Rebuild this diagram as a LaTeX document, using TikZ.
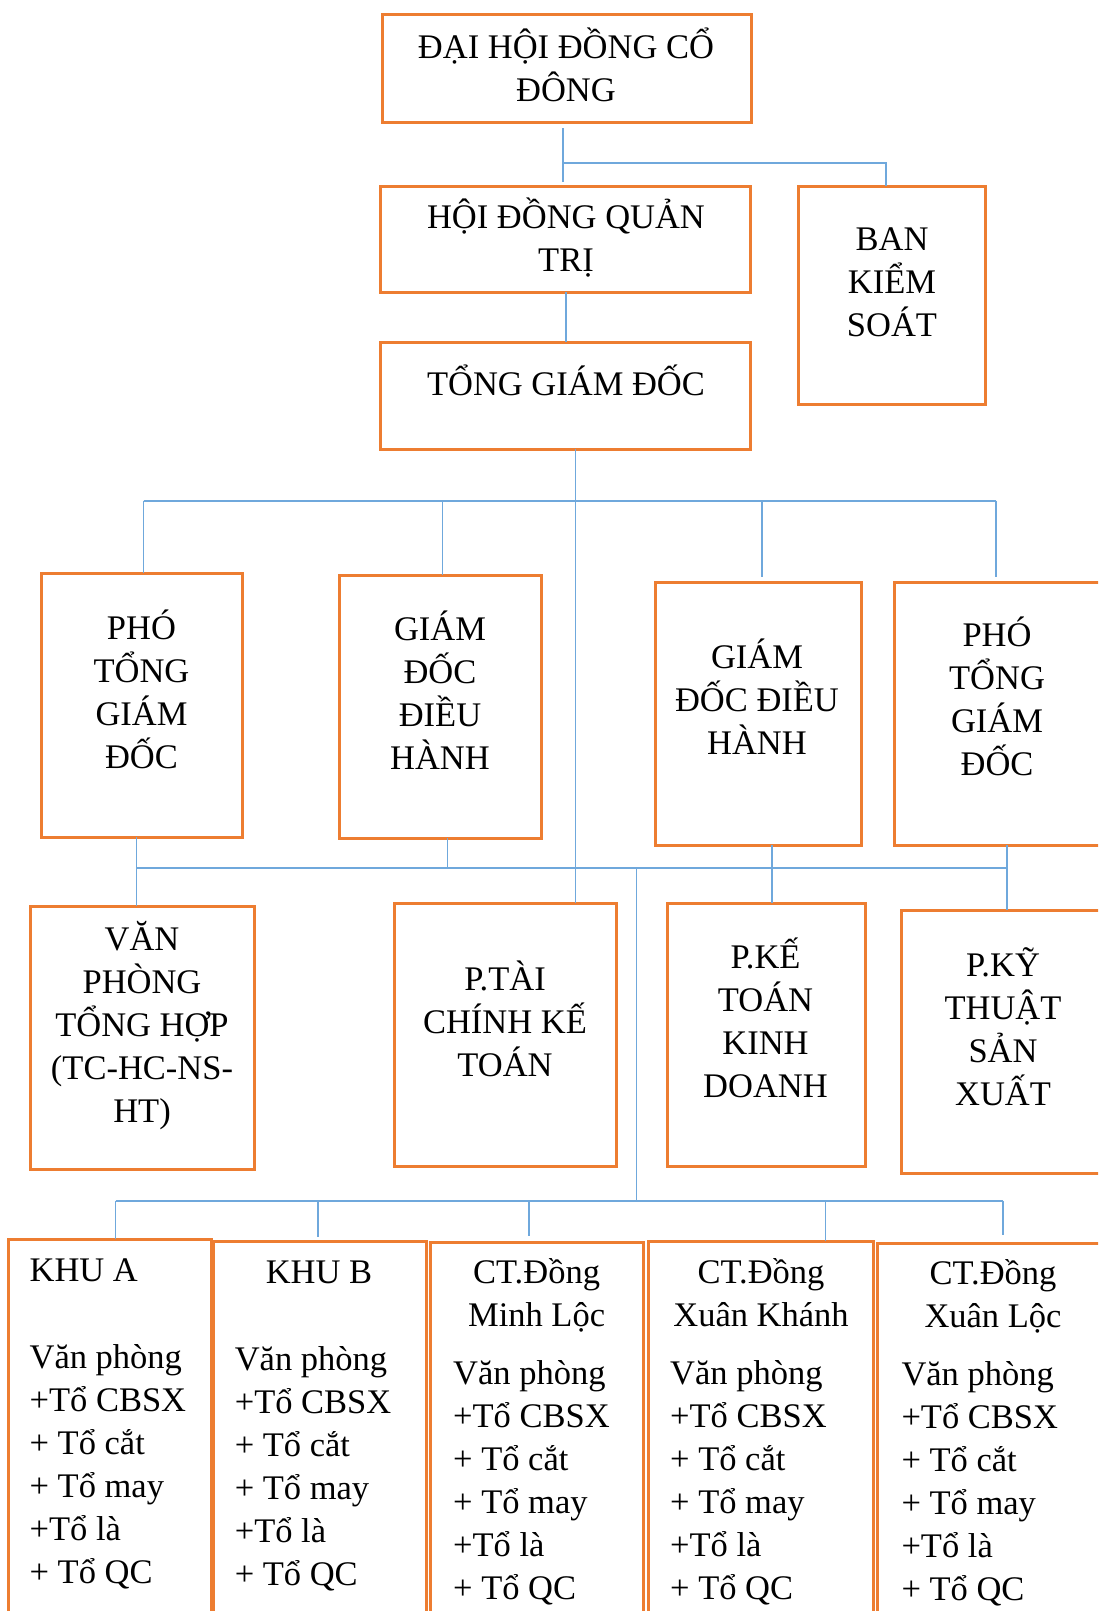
\documentclass[tikz,border=0pt]{standalone}
\usepackage{fontspec}
\setmainfont{Liberation Serif}
\definecolor{boxorange}{HTML}{ED7D31}
\definecolor{linkblue}{HTML}{6FA8DC}
\newcommand\topstrut{\rule{0pt}{36pt}}
\tikzset{
  unit box/.style={draw=boxorange, line width=3pt, rectangle, inner sep=0pt,
    outer sep=0pt, anchor=north west},
  link/.style={draw=linkblue, line width=1.6pt},
  label c/.style={anchor=north, align=center, inner sep=0pt,
    font=\fontsize{34.5}{43}\selectfont},
  label l/.style={anchor=north west, align=left, inner sep=0pt,
    font=\fontsize{34.5}{43}\selectfont},
}
\begin{document}
\begin{tikzpicture}[x=1pt, y=-1pt]
\path[use as bounding box, clip] (0,0) rectangle (1098,1611);
\fill[white] (0,0) rectangle (1098,1611);

% ---- boxes ----
\node[unit box, minimum width=369pt, minimum height=107pt] (dhdcd) at (382,15) {};
\node[unit box, minimum width=370pt, minimum height=106pt] (hdqt) at (380,186) {};
\node[unit box, minimum width=187pt, minimum height=218pt] (bks) at (798,186) {};
\node[unit box, minimum width=370pt, minimum height=107pt] (tgd) at (380,342) {};

\node[unit box, minimum width=201pt, minimum height=264pt] (ptgd1) at (41,573) {};
\node[unit box, minimum width=202pt, minimum height=263pt] (gddh1) at (339,575) {};
\node[unit box, minimum width=206pt, minimum height=263pt] (gddh2) at (655,582) {};
\node[unit box, minimum width=236pt, minimum height=263pt] (ptgd2) at (894,582) {};

\node[unit box, minimum width=224pt, minimum height=263pt] (vp) at (30,906) {};
\node[unit box, minimum width=222pt, minimum height=263pt] (ptc) at (394,903) {};
\node[unit box, minimum width=198pt, minimum height=263pt] (pkt) at (667,903) {};
\node[unit box, minimum width=229pt, minimum height=263pt] (pkyt) at (901,910) {};

\node[unit box, minimum width=203pt, minimum height=420pt] (khua) at (8,1239) {};
\node[unit box, minimum width=213pt, minimum height=420pt] (khub) at (213,1241) {};
\node[unit box, minimum width=213pt, minimum height=420pt] (ml) at (430,1242) {};
\node[unit box, minimum width=224.5pt, minimum height=420pt] (xk) at (648.5,1241) {};
\node[unit box, minimum width=253pt, minimum height=420pt] (xl) at (877,1243) {};

% ---- junction points ----
\coordinate (s1) at (563,163);
\coordinate (s1r) at (886,163);
\coordinate (s2) at (566,300);
\coordinate (trunk) at (575.6,500.7);
\coordinate (b2l) at (143.5,500.7);
\coordinate (b2a) at (442.6,500.7);
\coordinate (b2b) at (762,500.7);
\coordinate (b2r) at (996,500.7);
\coordinate (b3l) at (136.6,868);
\coordinate (b3a) at (447.5,868);
\coordinate (b3b) at (771.7,868);
\coordinate (b3c) at (636.6,868);
\coordinate (b3r) at (1007,868);
\coordinate (b4c) at (636.6,1201);
\coordinate (b4l) at (115.5,1201);
\coordinate (b4a) at (318,1201);
\coordinate (b4b) at (529,1201);
\coordinate (b4d) at (825.6,1201);
\coordinate (b4r) at (1003,1201);

% ---- connectors ----
\draw[link] ([yshift=-6pt]dhdcd.south -| s1) -- ([yshift=4pt]hdqt.north -| s1);
\draw[link] (s1) -- (s1r) -- (bks.north -| s1r);
\draw[link] (hdqt.south -| s2) -- (tgd.north -| s2);
\draw[link] (tgd.south -| trunk) -- (ptc.north -| trunk);

\draw[link] (b2l) -- (b2r);
\draw[link] (b2l) -- (ptgd1.north -| b2l);
\draw[link] (b2a) -- (gddh1.north -| b2a);
\draw[link] (b2b) -- ([yshift=5pt]gddh2.north -| b2b);
\draw[link] (b2r) -- ([yshift=5pt]ptgd2.north -| b2r);

\draw[link] (b3l) -- (b3r);
\draw[link] (ptgd1.south -| b3l) -- (vp.north -| b3l);
\draw[link] (gddh1.south -| b3a) -- (b3a);
\draw[link] (gddh2.south -| b3b) -- (pkt.north -| b3b);
\draw[link] (ptgd2.south -| b3r) -- (pkyt.north -| b3r);
\draw[link] (b3c) -- (b4c);

\draw[link] (b4l) -- (b4r);
\draw[link] (b4l) -- (khua.north -| b4l);
\draw[link] (b4a) -- ([yshift=4pt]khub.north -| b4a);
\draw[link] (b4b) -- ([yshift=6pt]ml.north -| b4b);
\draw[link] (b4d) -- (xk.north -| b4d);
\draw[link] (b4r) -- ([yshift=8pt]xl.north -| b4r);

% ---- labels ----
\node[label c] (t-dhdcd) at (566,22.3) {\topstrut ĐẠI HỘI ĐỒNG CỔ\\ĐÔNG};
\node[label c] (t-hdqt) at (566,192.3) {\topstrut HỘI ĐỒNG QUẢN\\TRỊ};
\node[label c] (t-bks) at (892,214.7) {\topstrut BAN\\KIỂM\\SOÁT};
\node[label c] (t-tgd) at (566,359.7) {\topstrut TỔNG GIÁM ĐỐC};

\node[label c] (t-ptgd1) at (141.5,603.3) {\topstrut PHÓ\\TỔNG\\GIÁM\\ĐỐC};
\node[label c] (t-gddh1) at (440,604.7) {\topstrut GIÁM\\ĐỐC\\ĐIỀU\\HÀNH};
\node[label c] (t-gddh2) at (757,632.3) {\topstrut GIÁM\\ĐỐC ĐIỀU\\HÀNH};
\node[label c] (t-ptgd2) at (997,610.7) {\topstrut PHÓ\\TỔNG\\GIÁM\\ĐỐC};

\node[label c] (t-vp) at (142,914) {\topstrut VĂN\\PHÒNG\\TỔNG HỢP\\(TC-HC-NS-\\HT)};
\node[label c] (t-ptc) at (505,954) {\topstrut P.TÀI\\CHÍNH KẾ\\TOÁN};
\node[label c] (t-pkt) at (765.5,932.3) {\topstrut P.KẾ\\TOÁN\\KINH\\DOANH};
\node[label c] (t-pkyt) at (1003,940) {\topstrut P.KỸ\\THUẬT\\SẢN\\XUẤT};

\node[label l] (h-khua) at (29.4,1245) {\topstrut KHU A};
\node[label c] (h-khub) at (319,1247.3) {\topstrut KHU B};
\node[label c] (h-ml) at (536.6,1247.3) {\topstrut CT.Đồng\\Minh Lộc};
\node[label c] (h-xk) at (761,1247.3) {\topstrut CT.Đồng\\Xuân Khánh};
\node[label c] (h-xl) at (993,1248.3) {\topstrut CT.Đồng\\Xuân Lộc};

\node[label l] (l-khua) at (29.4,1332.3) {\topstrut Văn phòng\\+Tổ CBSX\\+ Tổ cắt\\+ Tổ may\\+Tổ là\\+ Tổ QC};
\node[label l] (l-khub) at (234.6,1334) {\topstrut Văn phòng\\+Tổ CBSX\\+ Tổ cắt\\+ Tổ may\\+Tổ là\\+ Tổ QC};
\node[label l] (l-ml) at (453,1348) {\topstrut Văn phòng\\+Tổ CBSX\\+ Tổ cắt\\+ Tổ may\\+Tổ là\\+ Tổ QC};
\node[label l] (l-xk) at (670,1348) {\topstrut Văn phòng\\+Tổ CBSX\\+ Tổ cắt\\+ Tổ may\\+Tổ là\\+ Tổ QC};
\node[label l] (l-xl) at (901.3,1349) {\topstrut Văn phòng\\+Tổ CBSX\\+ Tổ cắt\\+ Tổ may\\+Tổ là\\+ Tổ QC};
\end{tikzpicture}
\end{document}
